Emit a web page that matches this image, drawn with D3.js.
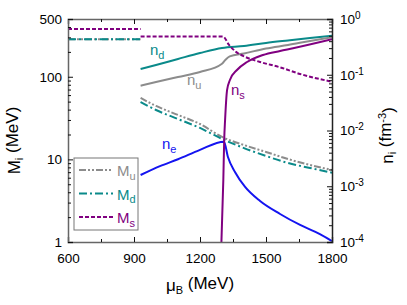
<!DOCTYPE html>
<html>
<head>
<meta charset="utf-8">
<script src="https://cdn.jsdelivr.net/npm/d3@7"></script>
<style>
  body { margin: 0; background: #fff; }
  svg { font-family: "Liberation Sans", Arial, sans-serif; }
</style>
</head>
<body>
<div id="chart"></div>
<script>
// vacuum branch (mu < ~930 MeV): masses constant
const muVac = [600, 930];
const MudVac = [285, 285];
const MsVac = [379, 379];

// dense branch, masses (MeV)
const muM = [930, 1000, 1100, 1200, 1300, 1400, 1500, 1600, 1700, 1800];
const Mu = [55.4, 44.3, 34.5, 26.8, 18.7, 14.9, 12.3, 10.1, 8.55, 7.45];
const Md = [49.5, 39.6, 30.8, 24.0, 17.7, 13.7, 11.0, 9.04, 7.87, 6.9];
const muMs = [930, 1305, 1332, 1364, 1405, 1473, 1564, 1655, 1800];
const Ms = [306, 306, 243, 200, 174, 151, 130, 108, 87];

// number densities (fm^-3)
const muNd = [930, 1000, 1100, 1200, 1300, 1400, 1500, 1600, 1700, 1800];
const nd = [0.127, 0.150, 0.192, 0.245, 0.302, 0.328, 0.371, 0.412, 0.456, 0.502];
const muNu = [930, 1000, 1100, 1200, 1300, 1315, 1335, 1400, 1500, 1600, 1700, 1800];
const nu = [0.0637, 0.0741, 0.0912, 0.112, 0.158, 0.184, 0.213, 0.241, 0.296, 0.342, 0.403, 0.469];
const muNs = [1295, 1306, 1310, 1314, 1323, 1336, 1368, 1414, 1486, 1564, 1623, 1800];
const ns = [5e-5, 1.29e-3, 6.76e-3, 0.0154, 0.0532, 0.0805, 0.1216, 0.1694, 0.226, 0.267, 0.298, 0.432];
const muNe = [930, 1018, 1100, 1200, 1309, 1327, 1359, 1405, 1473, 1564, 1655, 1745, 1800];
const ne = [1.59e-3, 2.30e-3, 3.05e-3, 4.50e-3, 6.29e-3, 3.35e-3, 1.80e-3, 9.70e-4, 5.43e-4, 3.18e-4, 2.02e-4, 1.39e-4, 1.04e-4];

const xTicks = [600, 900, 1200, 1500, 1800];
const mTickLabels = [1, 10, 100, 500];
const nTickExp = [0, -1, -2, -3, -4];

const W = 407, H = 305;
const L = 68, R = 332, T = 19, B = 242;

const svg = d3.select("#chart").append("svg")
  .attr("width", W).attr("height", H);

const x = d3.scaleLinear().domain([600, 1800]).range([L, R]);
const yM = d3.scaleLog().domain([1, 500]).range([B, T]);
const yN = d3.scaleLog().domain([1e-4, 1]).range([B, T]);

svg.append("clipPath").attr("id", "clip")
  .append("rect").attr("x", L).attr("y", T).attr("width", R - L).attr("height", B - T);

const plot = svg.append("g").attr("clip-path", "url(#clip)");

const lineM = d3.line().x(d => x(d[0])).y(d => yM(d[1])).curve(d3.curveMonotoneX);
const lineN = d3.line().x(d => x(d[0])).y(d => yN(d[1])).curve(d3.curveMonotoneX);
const zip = (a, b) => a.map((v, i) => [v, b[i]]);

const cGray = "#8c8c8c", cTeal = "#0a8a8a", cPurple = "#800080", cBlue = "#1414f0";

const series = [
  { pts: zip(muNd, nd), line: lineN, color: cTeal, dash: null },
  { pts: zip(muNu, nu), line: lineN, color: cGray, dash: null },
  { pts: zip(muVac, MudVac), line: lineM, color: cGray, dash: "7,2,2,2,2,2" },
  { pts: zip(muM, Mu), line: lineM, color: cGray, dash: "7,2,2,2,2,2" },
  { pts: zip(muVac, MudVac), line: lineM, color: cTeal, dash: "8,3,2,3" },
  { pts: zip(muM, Md), line: lineM, color: cTeal, dash: "8,3,2,3" },
  { pts: zip(muVac, MsVac), line: lineM, color: cPurple, dash: "4,2" },
  { pts: zip(muMs, Ms), line: lineM, color: cPurple, dash: "4,2" },
  { pts: zip(muNe, ne), line: lineN, color: cBlue, dash: null },
  { pts: zip(muNs, ns), line: lineN, color: cPurple, dash: null }
];

plot.selectAll("path.series")
  .data(series)
  .join("path")
    .attr("class", "series")
    .attr("d", d => d.line(d.pts))
    .attr("fill", "none")
    .attr("stroke", d => d.color)
    .attr("stroke-width", 2)
    .attr("stroke-dasharray", d => d.dash);

// axes
const axisColor = "#666";
const fs = "13.5px";

function styleAxis(g, color) {
  g.select(".domain").attr("stroke", color).attr("stroke-width", 1.5);
  g.selectAll(".tick line").attr("stroke", "#111").attr("stroke-width", 1);
  g.selectAll(".tick text").attr("fill", "#000").style("font-size", fs);
}

const minorX = d3.range(750, 1800, 300);

svg.append("g").attr("transform", `translate(0,${B})`)
  .call(d3.axisBottom(x).tickValues(xTicks).tickSize(-5).tickPadding(11).tickFormat(d3.format("d")))
  .call(g => styleAxis(g, axisColor));
svg.append("g").attr("transform", `translate(0,${B})`)
  .call(d3.axisBottom(x).tickValues(minorX).tickSize(-3).tickFormat(""))
  .call(g => { g.select(".domain").remove(); g.selectAll("line").attr("stroke", "#111"); });

svg.append("g").attr("transform", `translate(0,${T})`)
  .call(d3.axisTop(x).tickValues(xTicks).tickSize(-5).tickFormat(""))
  .call(g => styleAxis(g, axisColor));
svg.append("g").attr("transform", `translate(0,${T})`)
  .call(d3.axisTop(x).tickValues(minorX).tickSize(-3).tickFormat(""))
  .call(g => { g.select(".domain").remove(); g.selectAll("line").attr("stroke", "#111"); });

// left log axis
const minorM = [];
[1, 10, 100].forEach(dec => { for (let k = 2; k <= 9; k++) if (dec * k < 500) minorM.push(dec * k); });

svg.append("g").attr("transform", `translate(${L},0)`)
  .call(d3.axisLeft(yM).tickValues(mTickLabels).tickSize(-5).tickPadding(6).tickFormat(d3.format("d")))
  .call(g => styleAxis(g, axisColor));
svg.append("g").attr("transform", `translate(${L},0)`)
  .call(d3.axisLeft(yM).tickValues(minorM).tickSize(-3).tickFormat(""))
  .call(g => { g.select(".domain").remove(); g.selectAll("line").attr("stroke", "#111"); });

// right log axis
const minorN = [];
[1e-4, 1e-3, 1e-2, 1e-1].forEach(dec => { for (let k = 2; k <= 9; k++) minorN.push(dec * k); });

const rAxis = svg.append("g").attr("transform", `translate(${R},0)`)
  .call(d3.axisRight(yN).tickValues(nTickExp.map(e => Math.pow(10, e))).tickSize(-5).tickPadding(8).tickFormat(""))
  .call(g => styleAxis(g, "#222"));
rAxis.selectAll(".tick text").each(function (d) {
  const t = d3.select(this);
  t.text(null).attr("dy", "0.32em");
  t.append("tspan").text("10");
  t.append("tspan").attr("dy", "-0.5em").style("font-size", "10px").text(Math.round(Math.log10(d)));
});
svg.append("g").attr("transform", `translate(${R},0)`)
  .call(d3.axisRight(yN).tickValues(minorN).tickSize(-3).tickFormat(""))
  .call(g => { g.select(".domain").remove(); g.selectAll("line").attr("stroke", "#111"); });

// axis titles
const titleFs = "17px";
const lt = svg.append("text")
  .attr("transform", `translate(20,${(T + B) / 2 + 10}) rotate(-90)`)
  .attr("text-anchor", "middle").style("font-size", titleFs);
lt.append("tspan").text("M");
lt.append("tspan").attr("dy", "0.3em").style("font-size", "11px").text("i");
lt.append("tspan").attr("dy", "-0.3em").text(" (MeV)");

const rt = svg.append("text")
  .attr("transform", `translate(393,${(T + B) / 2 + 5}) rotate(-90)`)
  .attr("text-anchor", "middle").style("font-size", titleFs);
rt.append("tspan").text("n");
rt.append("tspan").attr("dy", "0.3em").style("font-size", "11px").text("i");
rt.append("tspan").attr("dy", "-0.3em").text(" (fm");
rt.append("tspan").attr("dy", "-0.45em").style("font-size", "11px").text("-3");
rt.append("tspan").attr("dy", "0.45em").text(")");

const bt = svg.append("text")
  .attr("x", (L + R) / 2).attr("y", 291)
  .attr("text-anchor", "middle").style("font-size", titleFs);
bt.append("tspan").text("μ");
bt.append("tspan").attr("dy", "0.3em").style("font-size", "11px").text("B");
bt.append("tspan").attr("dy", "-0.3em").text(" (MeV)");

// curve labels
const curveLabels = [
  { base: "n", sub: "d", mu: 900 + (150 - 134) / 0.22, y: 55, color: cTeal },
  { base: "n", sub: "u", mu: 600 + (187 - 68) / 0.22, y: 85, color: cGray },
  { base: "n", sub: "s", mu: 600 + (231 - 68) / 0.22, y: 95, color: cPurple },
  { base: "n", sub: "e", mu: 600 + (162 - 68) / 0.22, y: 149, color: cBlue }
];
curveLabels.forEach(c => {
  const t = svg.append("text").attr("x", x(c.mu)).attr("y", c.y)
    .attr("fill", c.color).style("font-size", "15px");
  t.append("tspan").text(c.base);
  t.append("tspan").attr("dy", "0.35em").style("font-size", "11px").text(c.sub);
});

// legend
const leg = svg.append("g");
leg.append("rect").attr("x", 74).attr("y", 158).attr("width", 64).attr("height", 72)
  .attr("fill", "#fff").attr("stroke", "#777").attr("stroke-width", 1);
const legItems = [
  { sub: "u", color: cGray, dash: "7,2,2,2,2,2" },
  { sub: "d", color: cTeal, dash: "8,3,2,3" },
  { sub: "s", color: cPurple, dash: "4,2" }
];
legItems.forEach((it, i) => {
  const yy = 170 + i * 23.5;
  leg.append("line").attr("x1", 79).attr("x2", 113).attr("y1", yy).attr("y2", yy)
    .attr("stroke", it.color).attr("stroke-width", 2).attr("stroke-dasharray", it.dash);
  const t = leg.append("text").attr("x", 117).attr("y", yy + 6)
    .attr("fill", it.color).style("font-size", "15px");
  t.append("tspan").text("M");
  t.append("tspan").attr("dy", "0.35em").style("font-size", "11px").text(it.sub);
});
</script>
</body>
</html>
